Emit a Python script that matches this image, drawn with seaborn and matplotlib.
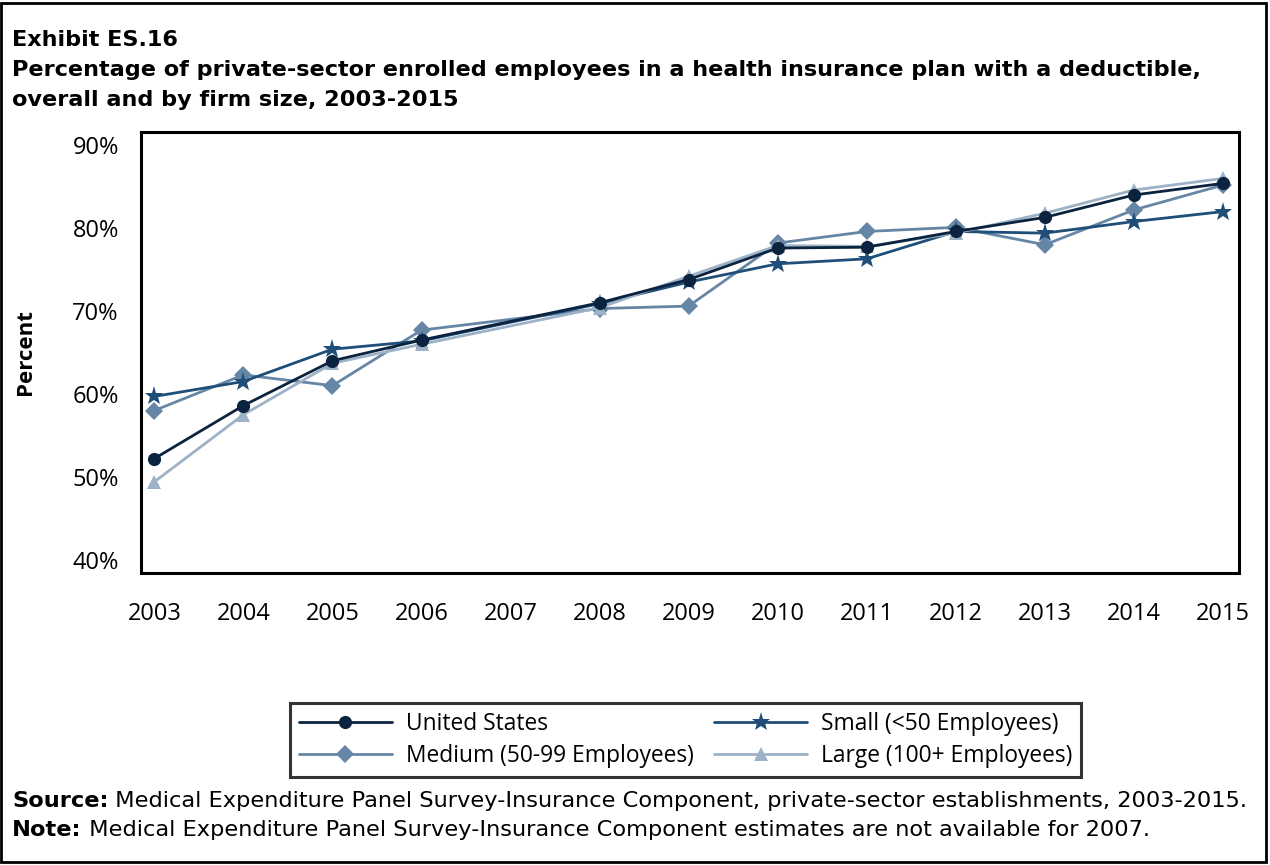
import numpy as np
import pandas as pd
import seaborn as sns
import matplotlib.pyplot as plt
from matplotlib.patches import Rectangle

# --- dados (2007 não disponível) ---
anos = [2003, 2004, 2005, 2006, 2008, 2009, 2010, 2011, 2012, 2013, 2014, 2015]
us = [52.2, 58.6, 64.0, 66.5, 71.0, 73.8, 77.6, 77.7, 79.6, 81.3, 84.0, 85.4]
small = [59.7, 61.5, 65.4, 66.4, 70.9, 73.5, 75.7, 76.3, 79.6, 79.4, 80.8, 82.0]
medium = [58.0, 62.3, 61.0, 67.7, 70.3, 70.6, 78.2, 79.6, 80.1, 78.0, 82.2, 85.2]
large = [49.4, 57.5, 63.7, 66.0, 70.4, 74.2, 77.9, 77.8, 79.4, 81.8, 84.6, 86.0]

tick_anos = list(range(2003, 2016))
tick_pct = [40, 50, 60, 70, 80, 90]
series = ["United States", "Medium (50-99 Employees)", "Small (<50 Employees)", "Large (100+ Employees)"]

df = pd.DataFrame({
    "Ano": anos * 4,
    "Valor": us + medium + small + large,
    "Serie": np.repeat(series, len(anos)),
})

cores = {
    "United States": "#0c2340",
    "Small (<50 Employees)": "#1f4e79",
    "Medium (50-99 Employees)": "#6686a6",
    "Large (100+ Employees)": "#9db2c7",
}
marcadores = {
    "United States": ("o", 9.5),
    "Small (<50 Employees)": ("*", 14),
    "Medium (50-99 Employees)": ("D", 9.5),
    "Large (100+ Employees)": ("^", 9.5),
}
ordem_z = ["Medium (50-99 Employees)", "Small (<50 Employees)", "Large (100+ Employees)", "United States"]

sns.set_style("white")
plt.rcParams["font.family"] = ["DejaVu Sans"]
plt.rcParams.update({"text.color": "black", "axes.labelcolor": "black",
                     "xtick.color": "black", "ytick.color": "black"})

W, H = 1270, 865
fig = plt.figure(figsize=(W / 100, H / 100), dpi=100)
ax = fig.add_axes([141 / W, 1 - 573 / H, (1239 - 141) / W, (573 - 132) / H])

for s in series:
    sub = df[df["Serie"] == s]
    m, ms = marcadores[s]
    sns.lineplot(data=sub, x="Ano", y="Valor", ax=ax, color=cores[s], marker=m,
                 markersize=ms, markeredgewidth=0, linewidth=2.0, label=s,
                 zorder=2 + ordem_z.index(s))

ax.set_xlim(2002.85, 2015.18)
ax.set_ylim(38.4, 91.6)
ax.set_xticks(tick_anos)
ax.set_xticklabels([str(a) for a in tick_anos], family="Open Sans", fontsize=17)
ax.set_yticks(tick_pct)
ax.set_yticklabels([f"{v}%" for v in tick_pct], family="Open Sans", fontsize=17)
ax.tick_params(axis="both", direction="out", length=10, width=2, color="black", pad=6)
ax.tick_params(axis="x", pad=11)
ax.set_xlabel("")
ax.set_ylabel("Percent", family="Open Sans", fontweight="bold", fontsize=16)
ax.yaxis.set_label_coords((36 - 141) / (1239 - 141), 0.5)
for sp in ax.spines.values():
    sp.set_linewidth(2.2)
    sp.set_color("black")

leg = ax.legend(ncol=2, loc="upper left", bbox_to_anchor=(290 / W, 1 - 703 / H),
                bbox_transform=fig.transFigure, frameon=True, fancybox=False,
                prop={"family": "Open Sans", "size": 16.4}, handlelength=4.1,
                handletextpad=0.6, columnspacing=0.9, borderpad=0.38,
                labelspacing=0.38, borderaxespad=0)
leg.get_frame().set_edgecolor("black")
leg.get_frame().set_linewidth(2.2)

# --- textos: título e notas, tamanho ajustado à largura do original ---
renderer = fig.canvas.get_renderer()


def ajusta(t, largura_px):
    tam = t.get_fontsize()
    w = t.get_window_extent(renderer).width
    t.set_fontsize(tam * largura_px / w)
    return t.get_fontsize()


t2 = fig.text(12 / W, 1 - 70 / H,
              "Percentage of private-sector enrolled employees in a health insurance plan with a deductible,",
              fontsize=16, fontweight="bold", va="center")
tam_titulo = ajusta(t2, 1196)
fig.text(12 / W, 1 - 40 / H, "Exhibit ES.16", fontsize=tam_titulo, fontweight="bold", va="center")
fig.text(12 / W, 1 - 100 / H, "overall and by firm size, 2003-2015",
         fontsize=tam_titulo, fontweight="bold", va="center")


def linha_nota(y_px, negrito, resto, tam):
    a = fig.text(12 / W, 1 - y_px / H, negrito, fontsize=tam, fontweight="bold", va="center")
    bb = a.get_window_extent(renderer)
    b = fig.text(bb.x1 / W, 1 - y_px / H, " " + resto, fontsize=tam, va="center")
    return a, b


a, b = linha_nota(801, "Source:", "Medical Expenditure Panel Survey-Insurance Component, private-sector establishments, 2003-2015.", 14)
largura = b.get_window_extent(renderer).x1 - a.get_window_extent(renderer).x0
tam_nota = 14 * 1238 / largura
a.remove()
b.remove()
linha_nota(801, "Source:", "Medical Expenditure Panel Survey-Insurance Component, private-sector establishments, 2003-2015.", tam_nota)
linha_nota(830, "Note:", "Medical Expenditure Panel Survey-Insurance Component estimates are not available for 2007.", tam_nota)

fig.patches.append(Rectangle((0.001, 0.003), 0.996, 0.993, transform=fig.transFigure,
                             fill=False, edgecolor="black", linewidth=2.0))

fig.savefig("out.png", dpi=100)
